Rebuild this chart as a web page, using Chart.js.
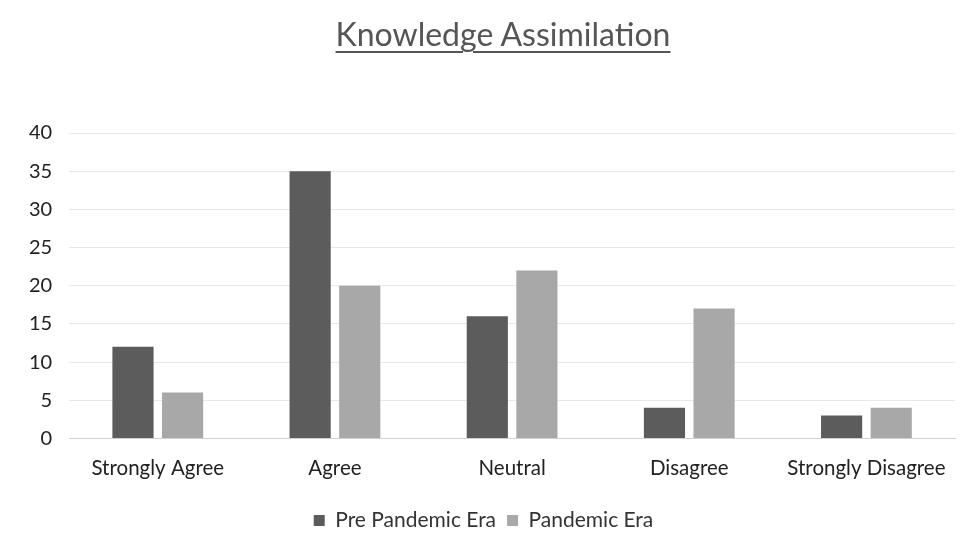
<!DOCTYPE html>
<html>
<head>
<meta charset="utf-8">
<script src="https://cdn.jsdelivr.net/npm/chart.js@4/dist/chart.umd.min.js"></script>
<style>
html,body{margin:0;padding:0;background:#fff;}
#wrap{width:967px;height:552px;position:relative;}
#title{position:absolute;left:0;width:1006px;top:14px;text-align:center;font-family:Lato,sans-serif;font-size:32px;color:#555;text-decoration:underline;text-decoration-thickness:2px;text-underline-offset:5px;line-height:40px;}
canvas{position:absolute;left:0;top:0;}
</style>
</head>
<body>
<div id="wrap"><canvas id="c" width="967" height="552"></canvas><div id="title"></div></div>
<script>
const categories = ["Strongly Agree", "Agree", "Neutral", "Disagree", "Strongly Disagree"];
const prePandemic = [12, 35, 16, 4, 3];
const pandemic = [6, 20, 22, 17, 4];
const seriesNames = ["Pre Pandemic Era", "Pandemic Era"];
const chartTitle = "Knowledge Assimilation";

document.getElementById('title').textContent = chartTitle;

new Chart(document.getElementById('c'), {
  type: 'bar',
  data: {
    labels: categories,
    datasets: [
      {label: seriesNames[0], data: prePandemic, backgroundColor: '#5c5c5c', barPercentage: 0.83, categoryPercentage: 0.56},
      {label: seriesNames[1], data: pandemic, backgroundColor: '#a8a8a8', barPercentage: 0.83, categoryPercentage: 0.56}
    ]
  },
  options: {
    responsive: false,
    animation: false,
    layout: {padding: {left: 12, right: 12, top: 133, bottom: 11}},
    plugins: {
      title: {display: false},
      legend: {
        position: 'bottom',
        labels: {
          color: '#333',
          font: {family: 'Lato', size: 21},
          boxWidth: 11, boxHeight: 11,
          padding: 11
        }
      },
      tooltip: {enabled: false}
    },
    scales: {
      y: {
        min: 0, max: 40,
        ticks: {stepSize: 5, color: '#222', font: {family: 'Lato', size: 20}, padding: 17},
        grid: {color: '#e8e8e8', drawTicks: false},
        border: {display: false}
      },
      x: {
        ticks: {color: '#222', font: {family: 'Lato', size: 20.5}, padding: 18},
        grid: {display: false, drawTicks: false},
        border: {display: true, color: '#d0d0d0'}
      }
    }
  }
});
</script>
</body>
</html>
